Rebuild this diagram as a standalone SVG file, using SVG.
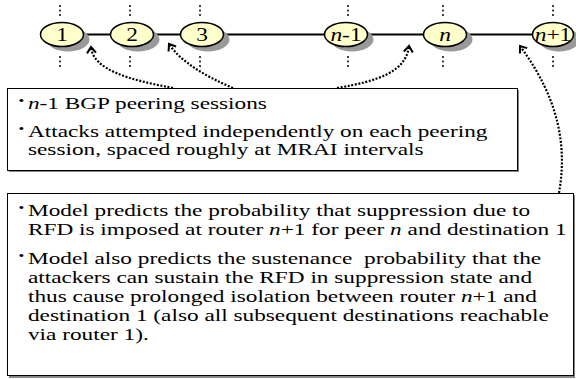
<svg xmlns="http://www.w3.org/2000/svg" width="576" height="379" viewBox="0 0 576 379">
<style>
.lbl{font-family:"Liberation Serif","Times New Roman",serif;font-size:18px;fill:#000}
.t{font-family:"Liberation Serif","Times New Roman",serif;font-size:17px;fill:#000}
.b{font-family:"Liberation Serif","Times New Roman",serif;font-size:12px;fill:#000}
.shadow{fill:#999}
.node{fill:#FFFFCC;stroke:#000;stroke-width:1.5}
.vdot{stroke:#000;stroke-width:1.5;stroke-dasharray:2 2.5;fill:none}
.conn{stroke:#000;stroke-width:2.2;stroke-dasharray:2 1.6;fill:none}
.box{fill:#fff;stroke:#000;stroke-width:1}
.boxsh{fill:#888}
</style>
<defs>
<marker id="chev" markerUnits="userSpaceOnUse" markerWidth="14" markerHeight="14" refX="0" refY="0" viewBox="-8 -7 10 14" orient="auto">
<path d="M-6,-4.5 L0,0 L-6,4.5" fill="none" stroke="#000" stroke-width="2"/>
</marker>
</defs>
<rect width="576" height="379" fill="#fff"/>
<line x1="62" y1="34.5" x2="553" y2="34.5" stroke="#000" stroke-width="2"/>
<g id="node1">
<line class="vdot" x1="60" y1="5" x2="60" y2="17"/><line class="vdot" x1="60" y1="56" x2="60" y2="68"/>
<ellipse class="shadow" cx="68" cy="39.5" rx="21.5" ry="12"/>
<ellipse class="node" cx="62" cy="34.5" rx="21.5" ry="12"/>
<text class="lbl" x="62" y="41" text-anchor="middle" transform="translate(62 0) scale(1.3 1) translate(-62 0)">1</text>
</g>
<g id="node2">
<line class="vdot" x1="130" y1="5" x2="130" y2="17"/><line class="vdot" x1="130" y1="56" x2="130" y2="68"/>
<ellipse class="shadow" cx="138" cy="39.5" rx="21.5" ry="12"/>
<ellipse class="node" cx="132" cy="34.5" rx="21.5" ry="12"/>
<text class="lbl" x="132" y="41" text-anchor="middle" transform="translate(132 0) scale(1.3 1) translate(-132 0)">2</text>
</g>
<g id="node3">
<line class="vdot" x1="200" y1="5" x2="200" y2="17"/><line class="vdot" x1="200" y1="56" x2="200" y2="68"/>
<ellipse class="shadow" cx="208" cy="39.5" rx="21.5" ry="12"/>
<ellipse class="node" cx="202" cy="34.5" rx="21.5" ry="12"/>
<text class="lbl" x="202" y="41" text-anchor="middle" transform="translate(202 0) scale(1.3 1) translate(-202 0)">3</text>
</g>
<g id="node-n-1">
<line class="vdot" x1="348" y1="5" x2="348" y2="17"/><line class="vdot" x1="348" y1="56" x2="348" y2="68"/>
<ellipse class="shadow" cx="352" cy="39.5" rx="21.5" ry="12"/>
<ellipse class="node" cx="346" cy="34.5" rx="21.5" ry="12"/>
<text class="lbl" x="346" y="41" text-anchor="middle" transform="translate(346 0) scale(1.3 1) translate(-346 0)"><tspan font-style="italic">n</tspan>-1</text>
</g>
<g id="node-n">
<line class="vdot" x1="443" y1="5" x2="443" y2="17"/><line class="vdot" x1="443" y1="56" x2="443" y2="68"/>
<ellipse class="shadow" cx="451" cy="39.5" rx="21.5" ry="12"/>
<ellipse class="node" cx="445" cy="34.5" rx="21.5" ry="12"/>
<text class="lbl" x="445" y="41" text-anchor="middle" font-style="italic" transform="translate(445 0) scale(1.3 1) translate(-445 0)">n</text>
</g>
<g id="node-n+1">
<line class="vdot" x1="553" y1="5" x2="553" y2="17"/><line class="vdot" x1="553" y1="56" x2="553" y2="68"/>
<ellipse class="shadow" cx="559" cy="39.5" rx="20.5" ry="12"/>
<ellipse class="node" cx="553" cy="34.5" rx="20.5" ry="12"/>
<text class="lbl" x="553" y="41" text-anchor="middle" transform="translate(553 0) scale(1.3 1) translate(-553 0)"><tspan font-style="italic">n</tspan>+1</text>
</g>
<g id="box1">
<rect class="boxsh" x="9" y="90" width="510" height="82"/>
<rect class="box" x="7.5" y="88.5" width="510" height="82"/>
<g transform="scale(1.37 1)">
<text class="b" x="13.5" y="105">•</text>
<text class="t" x="20.4" y="109"><tspan font-style="italic">n</tspan>-1 BGP peering sessions</text>
<text class="b" x="13.5" y="133">•</text>
<text class="t" x="20.4" y="137">Attacks attempted independently on each peering</text>
<text class="t" x="20.4" y="155">session, spaced roughly at MRAI intervals</text>
</g>
</g>
<g id="box2">
<rect class="boxsh" x="9" y="195" width="566" height="183"/>
<rect class="box" x="7.5" y="193.5" width="566" height="182"/>
<g transform="scale(1.37 1)">
<text class="b" x="13.5" y="212">•</text>
<text class="t" x="20.4" y="216">Model predicts the probability that suppression due to</text>
<text class="t" x="20.4" y="235">RFD is imposed at router <tspan font-style="italic">n</tspan>+1 for peer <tspan font-style="italic">n</tspan> and destination 1</text>
<text class="b" x="13.5" y="260">•</text>
<text class="t" x="20.4" y="264" xml:space="preserve">Model also predicts the sustenance  probability that the</text>
<text class="t" x="20.4" y="283">attackers can sustain the RFD in suppression state and</text>
<text class="t" x="20.4" y="302">thus cause prolonged isolation between router <tspan font-style="italic">n</tspan>+1 and</text>
<text class="t" x="20.4" y="321">destination 1 (also all subsequent destinations reachable</text>
<text class="t" x="20.4" y="340">via router 1).</text>
</g>
</g>
<g id="connectors">
<path class="conn" d="M173,88 C130,80 93,70 91,47" marker-end="url(#chev)"/>
<path class="conn" d="M233,88 C205,76 181,62 169,44" marker-end="url(#chev)"/>
<path class="conn" d="M337,88 C378,81 406,72 409,46" marker-end="url(#chev)"/>
<path class="conn" d="M559,193 C567,148 560,100 520,46" marker-end="url(#chev)"/>
</g>
</svg>
